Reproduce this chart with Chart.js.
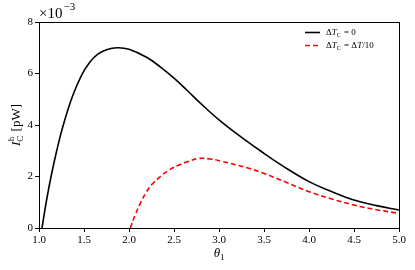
<!DOCTYPE html>
<html>
<head>
<meta charset="utf-8">
<script src="https://cdn.jsdelivr.net/npm/chart.js@4.4.1/dist/chart.umd.min.js"></script>
<style>
  html, body { margin: 0; padding: 0; background: #fff; }
  #wrap { width: 415px; height: 270px; position: relative; }
</style>
</head>
<body>
<div id="wrap"><canvas id="c" width="415" height="270"></canvas></div>
<script>
// Data (y values in units of 1e-3 pW)
const thetaA = [1.033, 1.08, 1.134, 1.2, 1.27, 1.37, 1.475, 1.56, 1.65, 1.75, 1.87, 2.0, 2.2, 2.35, 2.5, 2.65, 2.79, 3.0, 3.24, 3.5, 3.69, 4.0, 4.25, 4.5, 4.75, 5.0];
const powerA = [0, 1.0, 2.0, 3.05, 4.0, 5.1, 5.95, 6.42, 6.74, 6.92, 7.0, 6.94, 6.62, 6.25, 5.82, 5.33, 4.86, 4.2, 3.55, 2.9, 2.45, 1.8, 1.42, 1.09, 0.87, 0.70];
const thetaB = [2.014, 2.07, 2.13, 2.19, 2.256, 2.35, 2.44, 2.55, 2.645, 2.775, 2.9, 3.017, 3.33, 3.5, 3.75, 4.0, 4.25, 4.5, 4.75, 5.0];
const powerB = [0, 0.52, 0.99, 1.38, 1.70, 2.0, 2.24, 2.44, 2.57, 2.7, 2.68, 2.6, 2.32, 2.12, 1.77, 1.41, 1.13, 0.89, 0.71, 0.57];
const xTicks = [1.0, 1.5, 2.0, 2.5, 3.0, 3.5, 4.0, 4.5, 5.0];
const yTicks = [0, 2, 4, 6, 8];
const seriesLabels = ['ΔT_C = 0', 'ΔT_C = ΔT/10'];

const SERIF = '"Liberation Serif", "DejaVu Serif", serif';

function pts(xs, ys) { return xs.map((x, i) => ({ x: x, y: ys[i] })); }

const framePlugin = {
  id: 'frame',
  afterDraw(chart) {
    const ctx = chart.ctx, a = chart.chartArea;
    ctx.save();
    ctx.strokeStyle = '#000';
    ctx.lineWidth = 1;
    ctx.strokeRect(Math.round(a.left) + 0.5, Math.round(a.top) + 0.5, Math.round(a.right - a.left), Math.round(a.bottom - a.top));

    // multiplier
    ctx.fillStyle = '#000';
    ctx.textBaseline = 'alphabetic';
    ctx.textAlign = 'left';
    ctx.font = '15px ' + SERIF;
    ctx.fillText('×10', a.left, 18);
    const w1 = ctx.measureText('×10').width;
    ctx.font = '11px ' + SERIF;
    ctx.fillText('−3', a.left + w1 + 1, 10);

    // x title
    ctx.font = 'italic 13px ' + SERIF;
    const cx = (a.left + a.right) / 2;
    const tw = ctx.measureText('θ').width;
    ctx.fillText('θ', cx - tw / 2 - 2, 257);
    ctx.font = '9px ' + SERIF;
    ctx.fillText('1', cx - tw / 2 - 2 + tw, 260);

    // y title
    ctx.save();
    ctx.translate(20, (a.top + a.bottom) / 2);
    ctx.rotate(-Math.PI / 2);
    ctx.font = 'italic 13px ' + SERIF;
    const iw = ctx.measureText('I').width;
    ctx.font = '9px ' + SERIF;
    const sw = Math.max(ctx.measureText('h').width, ctx.measureText('C').width);
    ctx.font = '13px ' + SERIF;
    const bw = ctx.measureText(' [pW]').width;
    const total = iw + sw + 1 + bw;
    let x0 = -total / 2;
    ctx.font = 'italic 13px ' + SERIF;
    ctx.fillText('I', x0, 0);
    ctx.font = '9px ' + SERIF;
    ctx.fillText('h', x0 + iw + 0.5, -6);
    ctx.fillText('C', x0 + iw, 3);
    ctx.font = '13px ' + SERIF;
    ctx.fillText(' [pW]', x0 + iw + sw + 1, 0);
    ctx.restore();

    // legend
    const ds = chart.data.datasets;
    const rows = [32, 45];
    ds.forEach((d, i) => {
      const y = rows[i];
      ctx.save();
      ctx.strokeStyle = d.borderColor;
      ctx.lineWidth = d.borderWidth;
      ctx.setLineDash(d.borderDash || []);
      ctx.beginPath();
      ctx.moveTo(305, y + 0.5);
      ctx.lineTo(320, y + 0.5);
      ctx.stroke();
      ctx.restore();
      let x = 326;
      ctx.fillStyle = '#000';
      ctx.font = '9px ' + SERIF;
      ctx.fillText('Δ', x, y + 3);
      x += ctx.measureText('Δ').width;
      ctx.font = 'italic 9px ' + SERIF;
      ctx.fillText('T', x, y + 3);
      x += ctx.measureText('T').width;
      ctx.font = '6px ' + SERIF;
      ctx.fillText('C', x, y + 5);
      x += ctx.measureText('C').width + 1;
      ctx.font = '9px ' + SERIF;
      if (i === 0) {
        ctx.fillText(' = 0', x, y + 3);
      } else {
        ctx.fillText(' = Δ', x, y + 3);
        x += ctx.measureText(' = Δ').width;
        ctx.font = 'italic 9px ' + SERIF;
        ctx.fillText('T', x, y + 3);
        x += ctx.measureText('T').width;
        ctx.font = '9px ' + SERIF;
        ctx.fillText('/10', x, y + 3);
      }
    });
    ctx.restore();
  }
};

new Chart(document.getElementById('c'), {
  type: 'line',
  data: {
    datasets: [
      { label: seriesLabels[0], data: pts(thetaA, powerA), borderColor: '#000000', borderWidth: 1.6, pointRadius: 0, tension: 0.4, fill: false },
      { label: seriesLabels[1], data: pts(thetaB, powerB), borderColor: '#ff0000', borderWidth: 1.6, borderDash: [5, 3], pointRadius: 0, tension: 0.4, fill: false }
    ]
  },
  options: {
    responsive: false,
    animation: false,
    devicePixelRatio: 1,
    layout: { padding: { top: 22, right: 16, left: 0, bottom: 0 } },
    plugins: { legend: { display: false }, tooltip: { enabled: false } },
    scales: {
      x: {
        type: 'linear', min: 1, max: 5,
        afterBuildTicks(s) { s.ticks = xTicks.map(v => ({ value: v })); },
        afterFit(s) { s.height = 42; },
        grid: { display: true, drawOnChartArea: false, drawTicks: true, tickLength: 4, color: '#000', tickColor: '#000' },
        border: { display: false },
        ticks: { color: '#000', font: { family: SERIF, size: 11 }, padding: 2, maxRotation: 0, callback: v => v.toFixed(1) }
      },
      y: {
        type: 'linear', min: 0, max: 8,
        afterBuildTicks(s) { s.ticks = yTicks.map(v => ({ value: v })); },
        afterFit(s) { s.width = 39; },
        grid: { display: true, drawOnChartArea: false, drawTicks: true, tickLength: 4, color: '#000', tickColor: '#000' },
        border: { display: false },
        ticks: { color: '#000', font: { family: SERIF, size: 11 }, padding: 2, callback: v => String(v) }
      }
    }
  },
  plugins: [framePlugin]
});
</script>
</body>
</html>
